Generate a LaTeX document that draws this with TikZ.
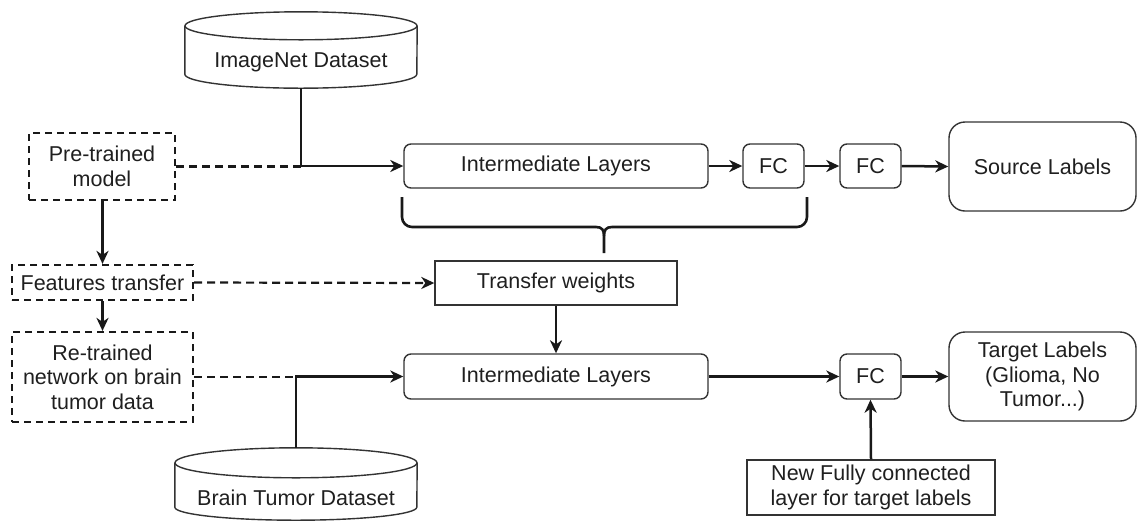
\documentclass[tikz,border=0pt]{standalone}
\usepackage{fontspec}
\setmainfont{Liberation Sans}
\usetikzlibrary{arrows.meta}
\begin{document}
\begin{tikzpicture}[x=1pt,y=-1pt,
  font=\fontsize{21.5}{24.5}\selectfont,
  every node/.style={text=black!88, align=center, inner sep=0pt},
  solidbox/.style={draw=black!80, line width=1.4pt, rectangle, minimum height=44pt},
  roundbox/.style={solidbox, rounded corners=7pt},
  bigbox/.style={solidbox, rounded corners=16pt},
  dashbox/.style={draw=black!90, line width=2.2pt, dash pattern=on 7pt off 5pt, rectangle},
  cylbody/.style={rectangle, draw=none},
  cylline/.style={draw=black!80, line width=1.4pt},
  conn/.style={draw=black!90, line width=2.5pt, -{Stealth[length=13pt,width=12pt,inset=4pt]}},
  dashconn/.style={draw=black!90, line width=2.2pt, dash pattern=on 8pt off 5pt},
  bracepath/.style={draw=black!90, line width=2.6pt}
]
\useasboundingbox (0,0) rectangle (1137,520);

% ---- left column: dashed process boxes
\node[dashbox, minimum width=146pt, minimum height=67pt] (pre) at (102,166.5) {Pre-trained\\model};
\node[dashbox, minimum width=181pt, minimum height=35pt] (feat) at (102.5,282.5) {Features transfer};
\node[dashbox, minimum width=181pt, minimum height=90pt] (re) at (102.5,377) {Re-trained\\network on brain\\tumor data};

% ---- datasets (cylinders)
\node[cylbody, minimum width=232pt, minimum height=76pt] (imgnet) at (301,50) {};
\draw[cylline] ([yshift=-14pt]imgnet.north) ellipse [x radius=116pt, y radius=14pt];
\draw[cylline] ([yshift=-14pt]imgnet.north west) -- ([yshift=14pt]imgnet.south west)
  arc[start angle=180, end angle=360, x radius=116pt, y radius=14pt]
  -- ([yshift=-14pt]imgnet.north east);
\node (imgnettext) at ([yshift=-12pt]imgnet.center) {ImageNet Dataset};

\node[cylbody, minimum width=242pt, minimum height=72pt] (brain) at (296,484) {};
\draw[cylline] ([yshift=-15pt]brain.north) ellipse [x radius=121pt, y radius=15pt];
\draw[cylline] ([yshift=-15pt]brain.north west) -- ([yshift=13pt]brain.south west)
  arc[start angle=180, end angle=360, x radius=121pt, y radius=13pt]
  -- ([yshift=-15pt]brain.north east);
\node (braintext) at ([yshift=-14pt]brain.center) {Brain Tumor Dataset};

% ---- source network
\node[roundbox, minimum width=304pt] (il1) at (556,166) {Intermediate Layers};
\node[roundbox, minimum width=61pt] (fc1) at (773.5,166) {FC};
\node[roundbox, minimum width=61pt] (fc2) at (870.5,166) {FC};
\node[bigbox, minimum width=187pt, minimum height=89pt] (src) at (1042.5,166.5) {Source Labels};

% ---- transfer
\node[solidbox, rounded corners=0pt, minimum width=242pt] (tw) at (556,283) {Transfer weights};

% ---- target network
\node[roundbox, minimum width=304pt, minimum height=45pt] (il2) at (556,376.5) {Intermediate Layers};
\node[roundbox, minimum width=61pt, minimum height=45pt] (fc3) at (870.5,376.5) {FC};
\node[bigbox, minimum width=187pt, minimum height=89pt] (tgt) at (1042.5,376.5) {Target Labels\\(Glioma, No\\Tumor...)};
\node[solidbox, rounded corners=0pt, minimum width=248pt, minimum height=55pt] (newfc) at (871,487.5) {New Fully connected\\layer for target labels};

% ---- brace grouping the transferred layers
\draw[bracepath, rounded corners=10pt] (402,197) -- (402,227) -- (596,227);
\draw[bracepath] (596,227) .. controls (602,227) and (604,230) .. (604,236) -- (604,253);
\draw[bracepath, rounded corners=10pt] (807,197) -- (807,227) -- (612,227);
\draw[bracepath] (612,227) .. controls (606,227) and (604,230) .. (604,236);

% ---- connectors
\draw[conn] (imgnet.south) |- (il1.west);
\draw[dashconn] (pre.east) -- (pre.east -| imgnet.south);
\draw[conn] (il1.east) -- (fc1.west);
\draw[conn] (fc1.east) -- (fc2.west);
\draw[conn] (fc2.east) -- (src.west);

\draw[conn] (pre.south -| feat.north) -- (feat.north);
\draw[conn] (feat.south) -- (re.north);
\draw[dashconn, -{Stealth[length=13pt,width=12pt,inset=4pt]}] (feat.east) -- (tw.west);

\draw[conn] (tw.south) -- (il2.north);
\draw[conn] (brain.north) |- (il2.west);
\draw[dashconn] (re.east) -- (re.east -| brain.north);
\draw[conn] (il2.east) -- (fc3.west);
\draw[conn] (fc3.east) -- (tgt.west);
\draw[conn] (newfc.north) -- (fc3.south);
\end{tikzpicture}
\end{document}
